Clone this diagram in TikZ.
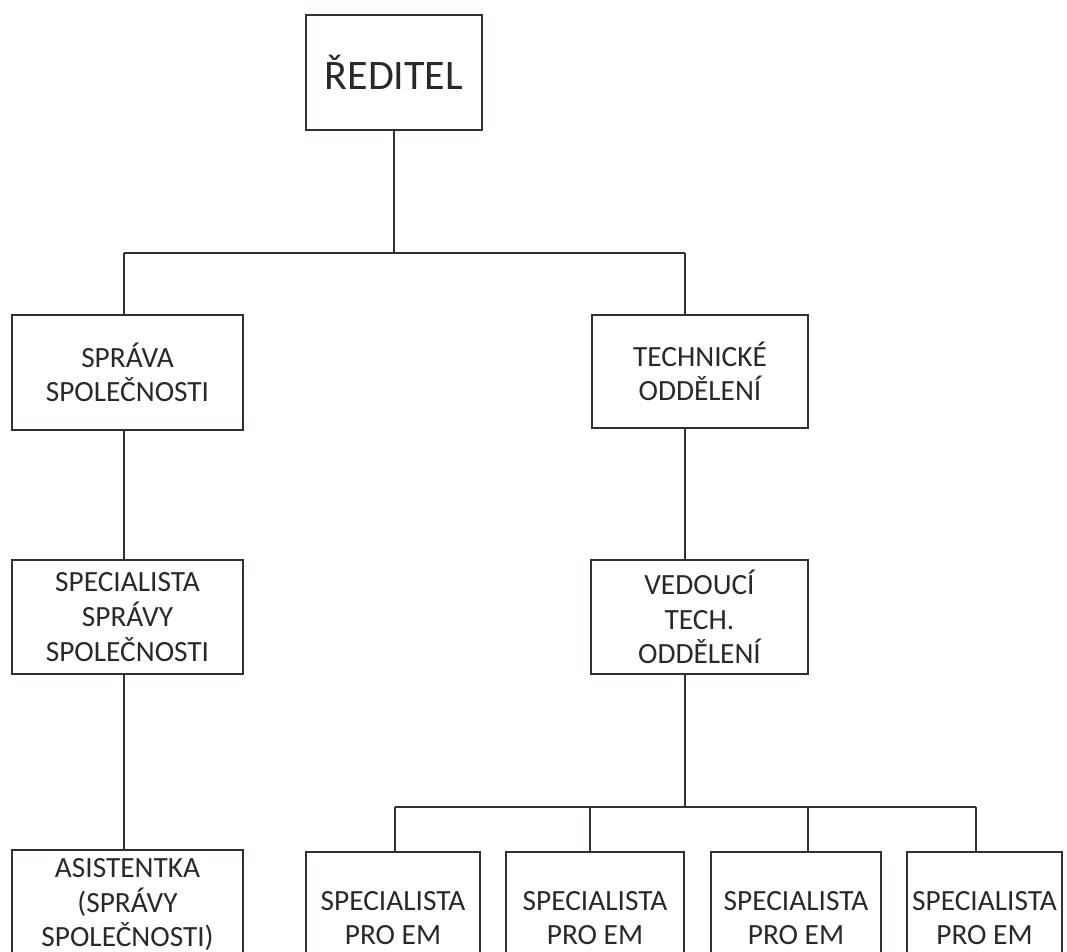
\documentclass[tikz,border=0pt]{standalone}
\usepackage{fontspec}
\setmainfont{Carlito}
\definecolor{linec}{RGB}{44,52,48}
\definecolor{textc}{RGB}{40,42,42}
\tikzset{
  box/.style={draw=linec, rectangle, inner sep=0pt, align=center, text=textc,
    font=\fontsize{22pt}{26pt}\selectfont},
  bigbox/.style={box, line width=2.2pt},
  smallbox/.style={box, line width=1.4pt},
  conn/.style={draw=linec, line width=1.3pt},
}
\begin{document}
\begin{tikzpicture}[x=0.75pt,y=-0.75pt]
\useasboundingbox (0,0) rectangle (1067,951);
\fill[white] (0,0) rectangle (1067,951);
\clip (0,0) rectangle (1067,951);

\node[bigbox, minimum width=132pt, minimum height=86.25pt,
  font=\fontsize{31.5pt}{36pt}\selectfont] (reditel) at (394,72.5) {ŘEDITEL};

\node[bigbox, minimum width=173.25pt, minimum height=86.25pt] (sprava) at (127.5,372.5) {SPRÁVA\\SPOLEČNOSTI};
\node[bigbox, minimum width=162pt, minimum height=84.75pt] (tech) at (700,371.5) {TECHNICKÉ\\ODDĚLENÍ};

\node[smallbox, minimum width=173.25pt, minimum height=85.5pt] (spec) at (127.5,617) {SPECIALISTA\\SPRÁVY\\SPOLEČNOSTI};
\node[smallbox, minimum width=162.75pt, minimum height=85.5pt] (ved) at (699.5,617) {VEDOUCÍ\\TECH.\\ODDĚLENÍ};

\node[smallbox, minimum width=173.25pt, minimum height=82pt] (asist) at (127.5,904.5) {ASISTENTKA\\(SPRÁVY\\SPOLEČNOSTI)};

\node[smallbox, minimum width=130.5pt, minimum height=99pt] (p1) at (393,918) {SPECIALISTA\\PRO EM};
\node[smallbox, minimum width=133.5pt, minimum height=99pt] (p2) at (595,918) {SPECIALISTA\\PRO EM};
\node[smallbox, minimum width=127.5pt, minimum height=99pt] (p3) at (796,918) {SPECIALISTA\\PRO EM};
\node[smallbox, minimum width=116.25pt, minimum height=99pt] (p4) at (984.5,918) {SPECIALISTA\\PRO EM};

\coordinate (t1) at (124,253);
\coordinate (t2) at (685,253);
\coordinate (t3) at (685,807);
\coordinate (b1) at (395,807);
\coordinate (b2) at (590,807);
\coordinate (b3) at (808,807);
\coordinate (b4) at (976,807);

\draw[conn] (reditel.south) -- (reditel.south |- t1);
\draw[conn] (t1) -- (t2);
\draw[conn] (t1) -- (t1 |- sprava.north);
\draw[conn] (t2) -- (t2 |- tech.north);
\draw[conn] (t1 |- sprava.south) -- (t1 |- spec.north);
\draw[conn] (t1 |- spec.south) -- (t1 |- asist.north);
\draw[conn] (t2 |- tech.south) -- (t2 |- ved.north);
\draw[conn] (t2 |- ved.south) -- (t3);
\draw[conn] (b1) -- (b4);
\draw[conn] (b1) -- (b1 |- p1.north);
\draw[conn] (b2) -- (b2 |- p2.north);
\draw[conn] (b3) -- (b3 |- p3.north);
\draw[conn] (b4) -- (b4 |- p4.north);
\end{tikzpicture}
\end{document}
